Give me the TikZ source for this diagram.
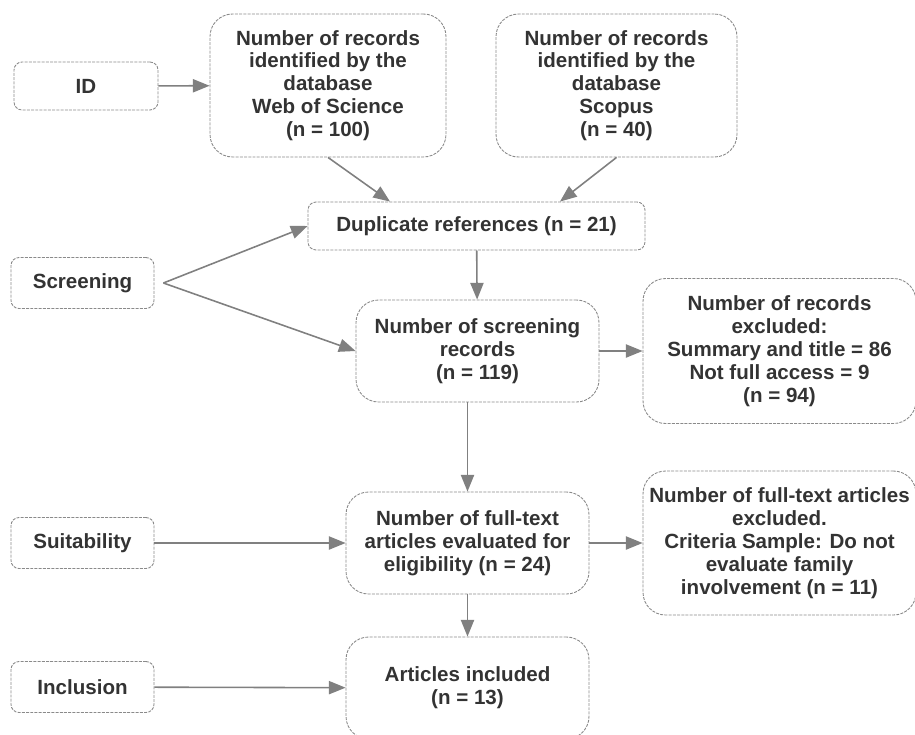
\documentclass[tikz,border=0pt]{standalone}
\usepackage{fontspec}
\setmainfont{Liberation Sans}
\usetikzlibrary{arrows.meta}
\definecolor{linegray}{HTML}{808080}
\definecolor{framegray}{HTML}{8A8A8A}
\definecolor{textgray}{HTML}{333333}
\begin{document}
\begin{tikzpicture}[x=0.02cm, y=-0.02cm]
	\tikzset{
		frame/.style={draw=framegray, line width=0.5pt, dash pattern=on 1.7pt off 0.7pt, align=center, inner sep=0pt, text=textgray, font=\bfseries\fontsize{11.7}{13}\selectfont},
		phase/.style={frame, rounded corners=0.16cm, minimum width=2.86cm, minimum height=1.02cm},
		box/.style={frame, rounded corners=0.45cm},
		path/.style={-{Triangle[length=9.5pt, width=7.5pt]}, linegray, line width=0.9pt}
	}
	\clip (0,0) rectangle (915,734);
	% Phases
	\node (id) at (86,86) [phase, minimum width=2.88cm, minimum height=0.96cm] {ID};
	\node (scr) at (82.5,283) [phase] {Screening};
	\node (suit) at (82.5,543) [phase] {Suitability};
	\node (incl) at (82.5,687) [phase] {Inclusion};
	% Records
	\node (wos) at (328,85.5) [box, minimum width=4.72cm, minimum height=2.86cm] {Number of records\\identified by the\\database\\Web of Science\\(n = 100)};
	\node (scop) at (616.5,85.5) [box, minimum width=4.82cm, minimum height=2.86cm] {Number of records\\identified by the\\database\\Scopus\\(n = 40)};
	\node (dup) at (476.5,226) [box, rounded corners=0.16cm, minimum width=6.74cm, minimum height=0.96cm] {Duplicate references (n = 21)};
	\node (nsr) at (477.5,351) [box, minimum width=4.86cm, minimum height=2.04cm] {Number of screening\\records\\(n = 119)};
	\node (exc1) at (779.5,351) [box, minimum width=5.46cm, minimum height=2.9cm] {Number of records\\excluded:\\Summary and title = 86\\Not full access = 9\\(n = 94)};
	\node (ftx) at (467.5,543) [box, minimum width=4.86cm, minimum height=2.04cm] {Number of full-text\\articles evaluated for\\eligibility (n = 24)};
	\node (exc2) at (779.5,543) [box, minimum width=5.46cm, minimum height=2.88cm] {Number of full-text articles\\excluded.\\Criteria Sample: Do not\\evaluate family\\involvement (n = 11)};
	\node (art) at (467.5,688) [box, minimum width=4.86cm, minimum height=2.04cm] {Articles included\\(n = 13)};
	\coordinate (fork) at ([xshift=0.18cm]scr.east);
	
	% Connections
	\draw[path] (id) -- (wos);
	\draw[path] (wos.south) -- ([xshift=-1.73cm]dup.north);
	\draw[path] (scop.south) -- ([xshift=1.67cm]dup.north);
	\draw[path] (fork) -- (dup.west);
	\draw[path] (fork) -- (nsr.west);
	\draw[path] (dup) -- (nsr);
	\draw[path] (nsr) -- (exc1);
	\draw[path] (nsr.south -| ftx.north) -- (ftx.north);
	\foreach \x/\y in {suit/ftx, ftx/exc2, ftx/art, incl/art} {
		\draw[path] (\x) -- (\y);
	}
\end{tikzpicture}
\end{document}
